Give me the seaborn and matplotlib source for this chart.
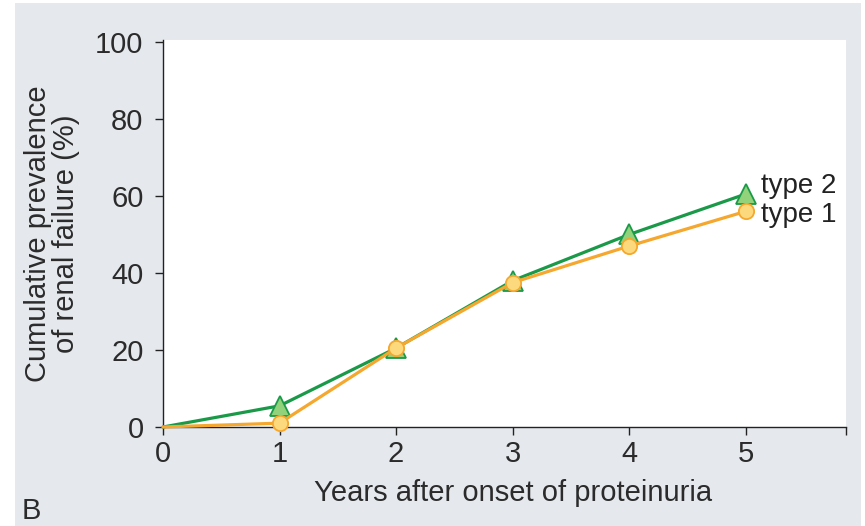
import matplotlib
matplotlib.use("Agg")
import matplotlib.pyplot as plt
import seaborn as sns
import pandas as pd
from matplotlib.patches import Rectangle

# Cumulative prevalence of renal failure by years after onset of proteinuria
years = [0, 1, 2, 3, 4, 5]
type2 = [0, 5.5, 20.5, 38, 50, 60.5]
type1 = [0, 1, 20.5, 37.5, 47, 56]
x_ticks = [0, 1, 2, 3, 4, 5]
y_ticks = [0, 20, 40, 60, 80, 100]

sns.set_theme(style="ticks")
plt.rcParams["font.family"] = ["Liberation Sans", "DejaVu Sans"]

fig = plt.figure(figsize=(8.65, 5.26), dpi=100)
fig.patch.set_facecolor("white")
fig.patches.append(Rectangle((15 / 865, 0), (861 - 15) / 865, (526 - 3) / 526,
                             transform=fig.transFigure, facecolor="#e5e9ee",
                             edgecolor="none", zorder=-10))

ax = fig.add_axes([163 / 865, (526 - 427) / 526, (846 - 163) / 865, (427 - 40) / 526])
ax.set_zorder(1)
ax.set_facecolor("white")

df = pd.DataFrame({"year": years, "type 2": type2, "type 1": type1})

green, green_fill = "#1a9a48", "#92d27a"
orange, orange_fill = "#f5a72e", "#fdd97e"

sns.lineplot(data=df, x="year", y="type 2", ax=ax, color=green, linewidth=2.3,
             marker="^", markersize=14, markerfacecolor=green_fill,
             markeredgecolor=green, markeredgewidth=1.3,
             markevery=[1, 2, 3, 4, 5], clip_on=False, zorder=3)
sns.lineplot(data=df, x="year", y="type 1", ax=ax, color=orange, linewidth=2.3,
             marker="o", markersize=11, markerfacecolor=orange_fill,
             markeredgecolor=orange, markeredgewidth=1.3,
             markevery=[1, 2, 3, 4, 5], clip_on=False, zorder=4)

ax.set_xlim(0, 5.86)
ax.set_ylim(0, 100.5)
ax.set_xticks(x_ticks + [5.86])
ax.set_xticklabels([str(v) for v in x_ticks] + [""])
ax.set_yticks(y_ticks)
ax.set_yticklabels([str(v) for v in y_ticks])

for side in ["top", "right"]:
    ax.spines[side].set_visible(False)
for side in ["left", "bottom"]:
    ax.spines[side].set_color("#222222")
    ax.spines[side].set_linewidth(1.0)

ax.tick_params(axis="both", direction="out", length=6, width=1.0,
               color="#222222", labelsize=21, labelcolor="#2b2b2b")
ax.tick_params(axis="x", pad=3)
ax.tick_params(axis="y", pad=8)

ax.set_xlabel("Years after onset of proteinuria", fontsize=21, color="#2b2b2b")
ax.xaxis.set_label_coords(0.512, -0.135)
ax.set_ylabel("Cumulative prevalence\nof renal failure (%)", fontsize=21,
              color="#2b2b2b", linespacing=1.0)
ax.yaxis.set_label_coords(-0.122, 0.5)

ax.text(5.135, 60.8, "type 2", fontsize=20, color="#222222",
        va="baseline", ha="left")
ax.text(5.135, 53.2, "type 1", fontsize=20, color="#222222",
        va="baseline", ha="left")

fig.text(22 / 865, 1 - 519 / 526, "B", fontsize=21, color="#2b2b2b",
         va="baseline", ha="left")

fig.savefig("out.png", dpi=100)
